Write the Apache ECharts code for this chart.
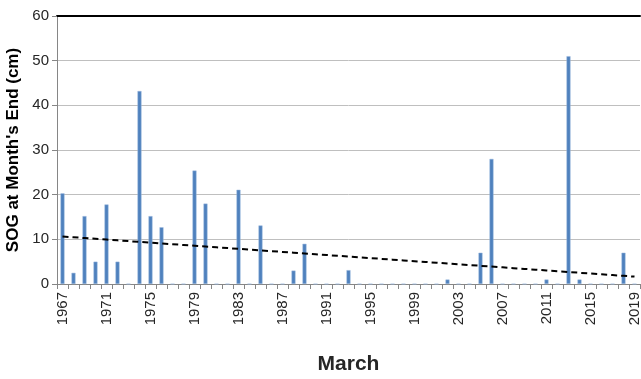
<!DOCTYPE html>
<html>
<head>
<meta charset="utf-8">
<script src="https://cdn.jsdelivr.net/npm/echarts@6/dist/echarts.min.js"></script>
<style>html,body{margin:0;padding:0;background:#fff}#c{width:641px;height:379px}</style>
</head>
<body>
<div id="c"></div>
<script>
const years = [];
for (let y = 1967; y <= 2019; y++) years.push(String(y));
const sog = [20.3, 2.5, 15.2, 5, 17.8, 5, 0, 43.2, 15.2, 12.7,
  0, 0, 25.4, 18, 0, 0, 21.1, 0, 13.1, 0,
  0, 3, 9, 0, 0, 0, 3.1, 0, 0, 0,
  0, 0, 0, 0, 0, 1, 0, 0, 7, 28,
  0, 0, 0, 0, 1, 0, 51, 1, 0, 0,
  0, 7, 0];
const yTicks = [0, 10, 20, 30, 40, 50, 60];

// linear trend (least squares) over the series
const n = sog.length;
let sx = 0, sy = 0, sxy = 0, sxx = 0;
sog.forEach((v, i) => { sx += i; sy += v; sxy += i * v; sxx += i * i; });
const slope = (n * sxy - sx * sy) / (n * sxx - sx * sx);
const icpt = (sy - slope * sx) / n;
const trend = sog.map((v, i) => +(icpt + slope * i).toFixed(3));

const chart = echarts.init(document.getElementById('c'), null, {renderer: 'canvas'});
chart.setOption({
  animation: false,
  grid: {left: 57, right: 1, top: 16, bottom: 95, containLabel: false, outerBoundsMode: 'none'},
  xAxis: [{
    type: 'category', data: years, boundaryGap: true,
    name: 'March', nameLocation: 'middle', nameGap: 70,
    nameTextStyle: {fontFamily: 'Liberation Sans', fontWeight: 'bold', fontSize: 21, color: '#262626'},
    axisLine: {lineStyle: {color: '#868686', width: 1}},
    axisTick: {show: true, interval: 0, length: 5, lineStyle: {color: '#868686'}},
    axisLabel: {interval: 3, rotate: 90, fontFamily: 'Liberation Sans', fontSize: 15, color: '#262626', margin: 8}
  }, {
    type: 'category', data: years, position: 'top',
    axisLine: {show: true, lineStyle: {color: '#000', width: 2}},
    axisTick: {show: false}, axisLabel: {show: false}
  }],
  yAxis: {
    type: 'value', min: 0, max: 60, interval: 10,
    name: "SOG at Month's End (cm)", nameLocation: 'middle', nameGap: 35,
    nameTextStyle: {fontFamily: 'Liberation Sans', fontWeight: 'bold', fontSize: 17, color: '#000'},
    axisLine: {show: true, lineStyle: {color: '#868686'}},
    axisTick: {show: true, length: 5, lineStyle: {color: '#868686'}},
    axisLabel: {fontFamily: 'Liberation Sans', fontSize: 15, color: '#262626', margin: 8,
      formatter: v => yTicks.includes(v) ? String(v) : ''},
    splitLine: {lineStyle: {color: '#BFBFBF', width: 1}}
  },
  series: [{
    type: 'bar', data: sog, barWidth: 4,
    itemStyle: {color: '#4F81BD', borderColor: '#9DB9DE', borderWidth: 0.5}
  }, {
    type: 'line', data: trend, symbol: 'none',
    lineStyle: {color: '#000', width: 2, type: [6, 4]}
  }]
});
</script>
</body>
</html>
